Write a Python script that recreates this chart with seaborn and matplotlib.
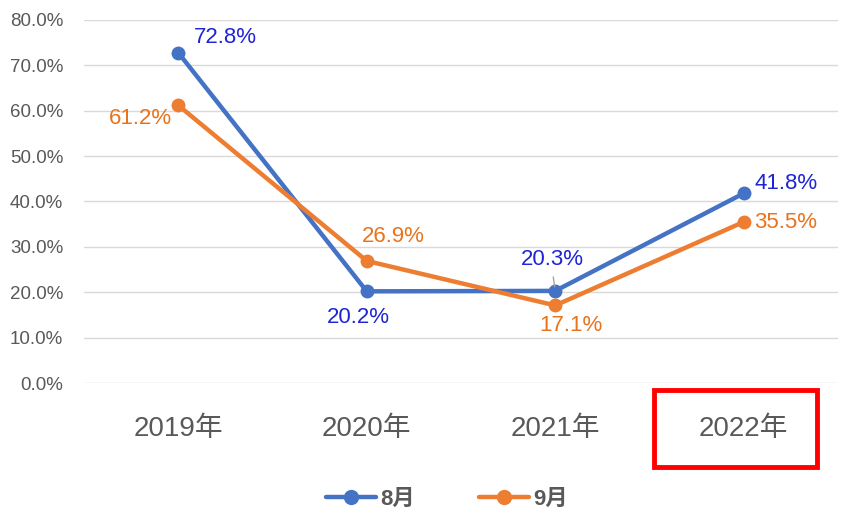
import matplotlib
matplotlib.use("Agg")
import matplotlib.pyplot as plt
import seaborn as sns
import pandas as pd
from matplotlib.patches import Rectangle
from matplotlib.lines import Line2D

years = ["2019年", "2020年", "2021年", "2022年"]
aug = [72.8, 20.2, 20.3, 41.8]
sep = [61.2, 26.9, 17.1, 35.5]
series_names = ["8月", "9月"]
yticks = [0, 10, 20, 30, 40, 50, 60, 70, 80]

sns.set_theme(style="white")
plt.rcParams['font.family'] = ['Liberation Sans', 'Noto Sans CJK JP', 'DejaVu Sans']

df = pd.DataFrame({
    "year": years * 2,
    "value": aug + sep,
    "series": [series_names[0]] * 4 + [series_names[1]] * 4,
})

blue = "#4472C4"
orange = "#ED7D31"
fig = plt.figure(figsize=(8.41, 5.13), dpi=100)
ax = fig.add_axes([84/841, 1-383/513, (838-84)/841, (383-20)/513])

sns.lineplot(data=df, x="year", y="value", hue="series", palette=[blue, orange],
             marker="o", markersize=10, markeredgewidth=0, linewidth=3.2,
             ax=ax, legend=False, sort=False)

ax.set_xlim(-0.5, 3.5)
ax.set_ylim(0, 80)
ax.set_yticks(yticks)
ax.set_yticklabels([f"{v:.1f}%" for v in yticks], fontsize=13.5, color="#595959")
ax.set_xticks(range(len(years)))
ax.set_xticklabels(years, fontsize=20, color="#595959")
ax.tick_params(axis="x", pad=24, length=0)
ax.tick_params(axis="y", pad=15, length=0)
ax.grid(axis="y", color="#D9D9D9", linewidth=1)
ax.set_axisbelow(True)
for s in ax.spines.values():
    s.set_visible(False)
ax.set_xlabel("")
ax.set_ylabel("")

lab_blue = "#1F24D6"
lab_orange = "#E8731C"
# offsets in pixels (dx, dy upward)
aug_off = [(47, 15), (-8, -26), (-3, 31), (42, 10)]
sep_off = [(-38, -13), (27, 24), (16, -20), (42, -1)]
for i, v in enumerate(aug):
    dx, dy = aug_off[i]
    ax.annotate(f"{v:.1f}%", (i, v), xytext=(dx*0.72, dy*0.72), textcoords="offset points",
                ha="center", va="center", fontsize=16, color=lab_blue)
for i, v in enumerate(sep):
    dx, dy = sep_off[i]
    ax.annotate(f"{v:.1f}%", (i, v), xytext=(dx*0.72, dy*0.72), textcoords="offset points",
                ha="center", va="center", fontsize=16, color=lab_orange)
# leader line for 2021 8月
ax.annotate("", (2, aug[2]), xytext=(-2*0.72, 14*0.72), textcoords="offset points",
            arrowprops=dict(arrowstyle="-", color="#A6A6A6", lw=1, shrinkA=0, shrinkB=3))

# red highlight box
fig.patches.append(Rectangle((654/841, 1-467/513), (817-654)/841, (467-390)/513,
                             transform=fig.transFigure, fill=False, edgecolor="#FF0000",
                             linewidth=3.5))

handles = [Line2D([], [], color=blue, lw=3.2, marker="o", markersize=11, markeredgewidth=0),
           Line2D([], [], color=orange, lw=3.2, marker="o", markersize=11, markeredgewidth=0)]
leg = fig.legend(handles, series_names, loc="center", bbox_to_anchor=(447/841, 1-499/513),
                 ncol=2, frameon=False, handlelength=2.25, columnspacing=2.9, handletextpad=0.2,
                 prop=dict(weight="bold", size=16))
for t in leg.get_texts():
    t.set_color("#595959")

fig.savefig("out.png", dpi=100)
